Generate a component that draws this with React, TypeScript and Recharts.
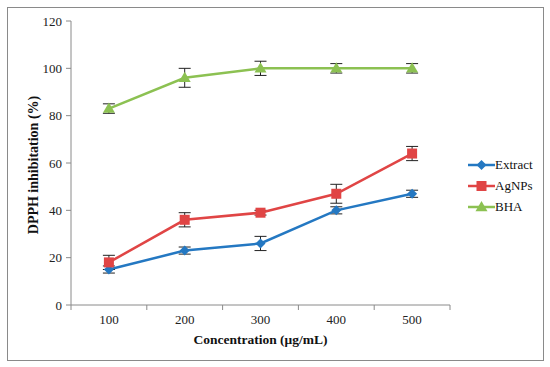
import React from 'react';
import { LineChart, Line, XAxis, YAxis, ErrorBar } from 'recharts';

const concentrations = [100, 200, 300, 400, 500];
const extract = [15, 23, 26, 40, 47];
const extractErr = [1.5, 1.5, 3, 1.5, 1.5];
const agnps = [18, 36, 39, 47, 64];
const agnpsErr = [3, 3, 1, 4, 3];
const bha = [83, 96, 100, 100, 100];
const bhaErr = [2, 4, 3, 2, 2];

const xTicks = [50, 100, 150, 200, 250, 300, 350, 400, 450, 500, 550];
const yTicks = [0, 20, 40, 60, 80, 100, 120];

const BLUE = '#2478c2';
const RED = '#e04545';
const GREEN = '#8cc152';
const AXIS = '#8a8a8a';
const FONT = "'Liberation Serif', Tinos, 'Times New Roman', Times, serif";

const data = concentrations.map((c, i) => ({
  conc: c,
  extract: extract[i],
  extractErr: extractErr[i],
  agnps: agnps[i],
  agnpsErr: agnpsErr[i],
  bha: bha[i],
  bhaErr: bhaErr[i],
}));

const series = [
  { key: 'extract', name: 'Extract', color: BLUE, shape: 'diamond' },
  { key: 'agnps', name: 'AgNPs', color: RED, shape: 'square' },
  { key: 'bha', name: 'BHA', color: GREEN, shape: 'triangle' },
];

function Marker({ cx, cy, shape, color }: { cx: number; cy: number; shape: string; color: string }) {
  if (cx == null || cy == null) return null;
  if (shape === 'diamond') {
    const r = 5;
    return <path d={`M${cx},${cy - r}L${cx + r},${cy}L${cx},${cy + r}L${cx - r},${cy}Z`} fill={color} />;
  }
  if (shape === 'square') {
    const s = 5;
    return <rect x={cx - s} y={cy - s} width={s * 2} height={s * 2} fill={color} />;
  }
  const r = 6;
  return <path d={`M${cx},${cy - r}L${cx + r},${cy + r * 0.7}L${cx - r},${cy + r * 0.7}Z`} fill={color} />;
}

function XTick(props: any) {
  const { x, y, payload } = props;
  const v = payload.value;
  if (v % 100 === 50) {
    const y0 = y - 10;
    return <line x1={x} y1={y0} x2={x} y2={y0 + 5} stroke={AXIS} />;
  }
  return (
    <text x={x} y={y} dy="0.71em" textAnchor="middle" fill="#222" fontSize={13} style={{ fontFamily: FONT }}>
      {v}
    </text>
  );
}

export default function App() {
  return (
    <div style={{ position: 'relative', width: 550, height: 367, background: '#fff', fontFamily: FONT }}>
      <style>{'body{margin:0}'}</style>
      <div
        style={{
          position: 'absolute',
          left: 7,
          top: 7,
          width: 537,
          height: 354,
          border: '1px solid #8a8a8a',
          boxSizing: 'border-box',
        }}
      />
      <div style={{ position: 'absolute', left: 0, top: 0 }}>
        <LineChart width={550} height={367} data={data} margin={{ top: 21, right: 100, bottom: 32, left: 0 }}>
          <XAxis
            dataKey="conc"
            type="number"
            domain={[50, 550]}
            ticks={xTicks}
            interval={0}
            tick={<XTick />}
            tickLine={false}
            tickSize={5}
            tickMargin={5}
            axisLine={{ stroke: AXIS }}
            height={30}
            label={{
              value: 'Concentration (μg/mL)',
              position: 'insideBottom',
              offset: -9,
              style: { fontFamily: FONT, fontSize: 13.5, fontWeight: 'bold', fill: '#111' },
            }}
          />
          <YAxis
            type="number"
            domain={[0, 120]}
            ticks={yTicks}
            interval={0}
            width={71}
            tickSize={5}
            tickMargin={4}
            axisLine={{ stroke: AXIS }}
            tickLine={{ stroke: AXIS }}
            tick={{ fill: '#222', fontSize: 13, style: { fontFamily: FONT } }}
            label={{
              value: 'DPPH inhibitation (%)',
              angle: -90,
              position: 'insideLeft',
              offset: 33,
              dy: 2,
              textAnchor: 'middle',
              style: { fontFamily: FONT, fontSize: 14, fontWeight: 'bold', fill: '#111', textAnchor: 'middle' },
            }}
          />
          {series.map((s) => (
            <Line
              key={s.key}
              dataKey={s.key}
              name={s.name}
              stroke={s.color}
              strokeWidth={2.5}
              isAnimationActive={false}
              dot={(p: any) => <Marker key={`${s.key}-${p.index}`} cx={p.cx} cy={p.cy} shape={s.shape} color={s.color} />}
              activeDot={false}
            >
              <ErrorBar dataKey={`${s.key}Err`} width={6} stroke="#222" strokeWidth={1} direction="y" />
            </Line>
          ))}
        </LineChart>
      </div>
      <div style={{ position: 'absolute', left: 468, top: 154, fontSize: 13, color: '#111' }}>
        {series.map((s) => (
          <div key={s.key} style={{ display: 'flex', alignItems: 'center', height: 21 }}>
            <svg width={27} height={14}>
              <line x1={0} y1={7} x2={27} y2={7} stroke={s.color} strokeWidth={2.5} />
              <Marker cx={13.5} cy={7} shape={s.shape} color={s.color} />
            </svg>
            <span>{s.name}</span>
          </div>
        ))}
      </div>
    </div>
  );
}
